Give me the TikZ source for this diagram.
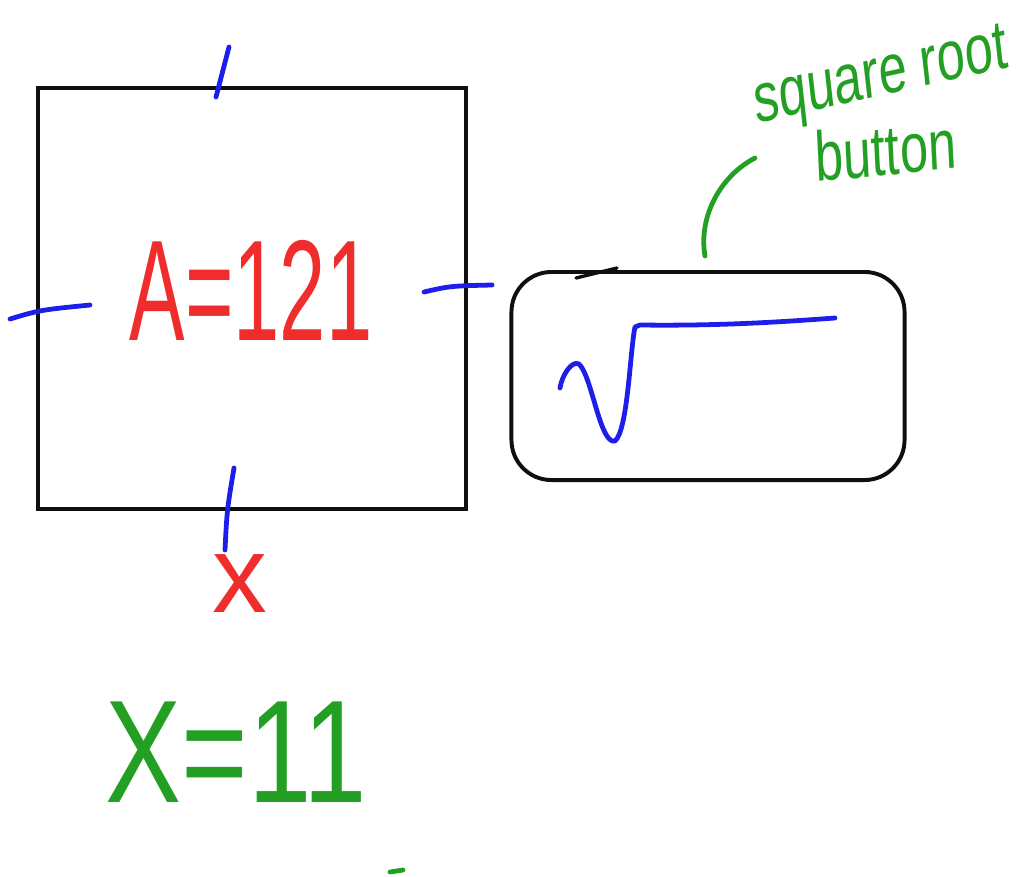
\documentclass[tikz,border=0pt]{standalone}
\usepackage{fontspec}
\setmainfont{Liberation Sans}
\usetikzlibrary{positioning}
\definecolor{penred}{RGB}{240,45,45}
\definecolor{pengreen}{RGB}{35,160,35}
\definecolor{penblue}{RGB}{30,30,235}
\definecolor{penblack}{RGB}{15,15,15}

\begin{document}
\begin{tikzpicture}[
		x=0.025cm, y=-0.025cm,
		stroke/.style={line width=3.4pt, line cap=round, line join=round},
		tick/.style={stroke, draw=penblue},
		scrawl/.style={inner sep=0pt, transform shape, font=\fontsize{#1}{#1}\selectfont},
		redtext/.style={scrawl=#1, text=penred},
		greentext/.style={scrawl=#1, text=pengreen},
		squarebox/.style={draw=penblack, line width=2.8pt, minimum width=10.7cm, minimum height=10.525cm, inner sep=0pt},
		buttonbox/.style={draw=penblack, line width=2.8pt, rounded corners=1cm, minimum width=9.825cm, minimum height=5.2cm, inner sep=0pt}
		]
		\useasboundingbox (0,0) rectangle (1026,876);
		
		% the square and its area
		\node[squarebox] (square) at (252,298.5) {};
		\node[redtext=102pt, xscale=0.58] (area) at (251,290) {A=121};
		\draw[tick] (216,97) -- (229,47);
		\draw[tick] (10,319) .. controls (40,310) .. (90,305);
		\draw[tick] (424,292) .. controls (450,286) .. (492,285);
		\draw[tick] (225,550) .. controls (227,510) .. (234,468);
		\node[redtext=78pt] (side) at (240,584) {x};
		\node[greentext=104pt, xscale=0.78] (result) at (236,752) {X=11};
		\draw[stroke, draw=pengreen] (390,872) -- (403,870);
		
		% the button
		\node[buttonbox] (button) at (708,376) {};
		\draw[stroke, draw=penblack, line width=2.4pt] (576,278) -- (617,268);
		\draw[tick] (560,388) .. controls (562,375) and (572,360) .. (579,364)
			.. controls (592,376) and (600,445) .. (615,441)
			.. controls (628,430) and (630,350) .. (635,327)
			-- (640,325) .. controls (720,326) and (780,322) .. (835,318);
		
		% its label
		\node[greentext=50pt, xscale=0.72, rotate=9] (labeltop) at (881,80) {square root};
		\node[greentext=50pt, xscale=0.72, rotate=4, below=0.35cm of labeltop.south, anchor=north] (labelbot) {button};
		\coordinate (pointer) at (755,158);
		\draw[stroke, draw=pengreen] ([xshift=-0.075cm, yshift=0.35cm]button.north) .. controls (698,215) and (722,175) .. (pointer);
	\end{tikzpicture}
\end{document}
